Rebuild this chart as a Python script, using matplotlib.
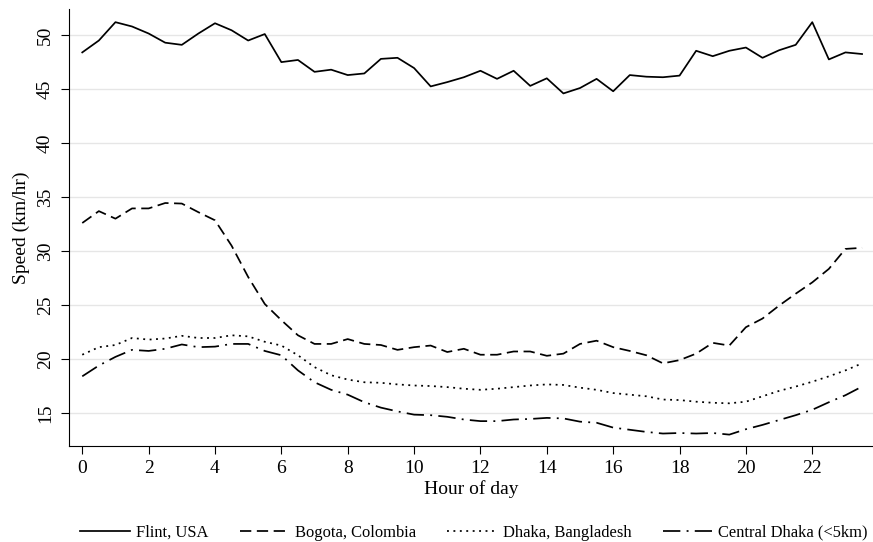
import numpy as np
import matplotlib
matplotlib.use('Agg')
import matplotlib.pyplot as plt

plt.rcParams['font.family'] = ['Liberation Serif', 'DejaVu Serif']

# hour of day, every half hour
hours = np.arange(0, 24, 0.5)

flint = [48.4, 49.5, 51.2, 50.8, 50.15, 49.3, 49.1, 50.15, 51.1, 50.45, 49.5, 50.1,
         47.5, 47.7, 46.6, 46.8, 46.3, 46.45, 47.8, 47.9, 46.95, 45.25, 45.65, 46.1,
         46.7, 45.95, 46.7, 45.3, 46.0, 44.6, 45.1, 45.95, 44.8, 46.3, 46.15, 46.1,
         46.25, 48.55, 48.05, 48.55, 48.85, 47.9, 48.6, 49.1, 51.2, 47.75, 48.4, 48.25]

bogota = [32.6, 33.7, 33.0, 33.95, 33.95, 34.45, 34.4, 33.6, 32.85, 30.5, 27.6, 25.1,
          23.6, 22.2, 21.4, 21.4, 21.85, 21.4, 21.3, 20.85, 21.1, 21.25, 20.65, 20.95,
          20.4, 20.4, 20.7, 20.7, 20.3, 20.5, 21.4, 21.7, 21.1, 20.75, 20.35, 19.6,
          19.9, 20.5, 21.5, 21.25, 22.95, 23.75, 24.95, 26.05, 27.1, 28.35, 30.2, 30.3]

dhaka = [20.4, 21.1, 21.3, 21.95, 21.8, 21.9, 22.15, 21.95, 21.95, 22.2, 22.1, 21.6,
         21.25, 20.35, 19.25, 18.5, 18.1, 17.85, 17.8, 17.65, 17.55, 17.5, 17.4, 17.25,
         17.15, 17.25, 17.4, 17.55, 17.65, 17.6, 17.35, 17.15, 16.85, 16.7, 16.55, 16.25,
         16.2, 16.05, 15.95, 15.9, 16.05, 16.55, 17.05, 17.45, 17.9, 18.4, 18.95, 19.6]

central_dhaka = [18.4, 19.4, 20.2, 20.85, 20.75, 20.95, 21.35, 21.1, 21.15, 21.4, 21.4, 20.75,
                 20.35, 18.95, 17.85, 17.15, 16.7, 16.0, 15.5, 15.15, 14.85, 14.8, 14.65, 14.4,
                 14.25, 14.25, 14.4, 14.45, 14.55, 14.5, 14.2, 14.1, 13.65, 13.45, 13.25, 13.1,
                 13.15, 13.1, 13.15, 13.0, 13.5, 13.9, 14.35, 14.8, 15.3, 16.0, 16.65, 17.45]

labels = ['Flint, USA', 'Bogota, Colombia', 'Dhaka, Bangladesh', 'Central Dhaka (<5km)']
xticks = list(range(0, 24, 2))
yticks = list(range(15, 55, 5))

fig = plt.figure(figsize=(8.73, 5.42), dpi=100)
ax = fig.add_axes([0.0794, 0.177, 0.9206, 0.806])

lw = 1.25
ax.plot(hours, flint, color='black', lw=lw, linestyle='-', label=labels[0])
ax.plot(hours, bogota, color='black', lw=lw, linestyle=(0, (6.5, 3.2)), label=labels[1])
ax.plot(hours, dhaka, color='black', lw=lw, linestyle=(0, (1.1, 2.6)), label=labels[2])
ax.plot(hours, central_dhaka, color='black', lw=lw, linestyle=(0, (10, 3.6, 1.1, 3.6)), label=labels[3])

ax.set_xlim(-0.39, 23.83)
ax.set_ylim(11.94, 52.4)
ax.set_xticks(xticks)
ax.set_yticks(yticks)

ax.yaxis.grid(True, color='#e6e6e6', lw=1.0)
ax.set_axisbelow(True)
for s in ['top', 'right']:
    ax.spines[s].set_visible(False)
for s in ['left', 'bottom']:
    ax.spines[s].set_linewidth(0.8)

ax.tick_params(axis='both', direction='out', length=6, width=0.8, labelsize=14)
ax.tick_params(axis='x', pad=4)
ax.tick_params(axis='y', pad=5)
for t in ax.get_yticklabels():
    t.set_rotation(90)
    t.set_va('center')

ax.set_xlabel('Hour of day', fontsize=14, labelpad=2)
ax.set_ylabel('Speed (km/hr)', fontsize=14, labelpad=5)

fig.legend(loc='center', bbox_to_anchor=(0.543, 0.017), ncol=4, frameon=False,
           fontsize=11.9, handlelength=3.0, handletextpad=0.35, columnspacing=1.9,
           borderaxespad=0.)

fig.savefig('out.png', dpi=100)
